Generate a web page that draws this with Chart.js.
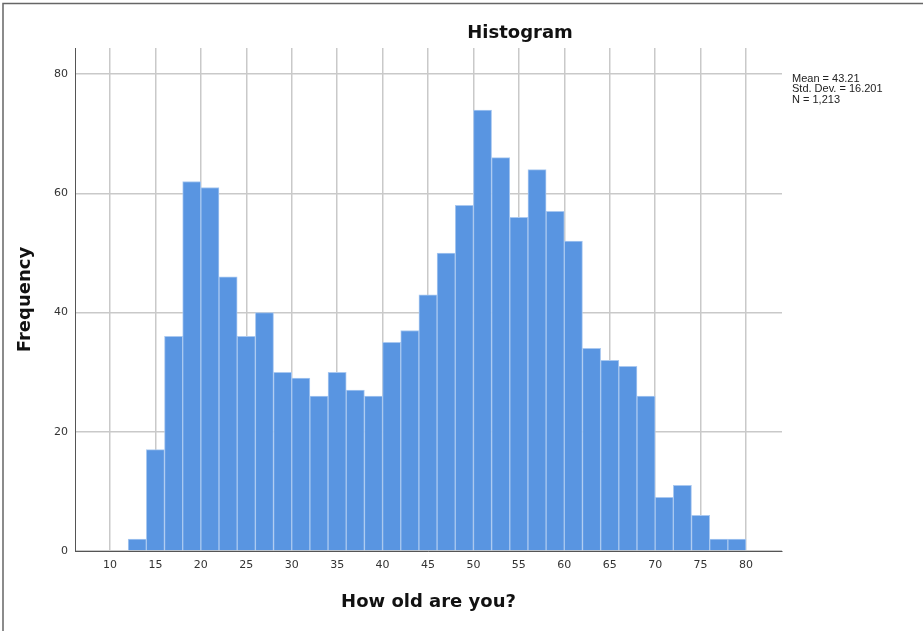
<!DOCTYPE html>
<html>
<head>
<meta charset="utf-8">
<script src="https://cdn.jsdelivr.net/npm/chart.js@4/dist/chart.umd.min.js"></script>
<style>
  html,body{margin:0;padding:0;background:#fff;}
  #wrap{width:923px;height:631px;position:relative;}
</style>
</head>
<body>
<div id="wrap"><canvas id="chartHist" width="923" height="631"></canvas></div>
<script>
// edad (centro de cada intervalo de 2 años) y frecuencias
const binCenters = [13,15,17,19,21,23,25,27,29,31,33,35,37,39,41,43,45,47,49,51,53,55,57,59,61,63,65,67,69,71,73,75,77,79];
const freqs = [2,17,36,62,61,46,36,40,30,29,26,30,27,26,35,37,43,50,58,74,66,56,64,57,52,34,32,31,26,9,11,6,2,2];
const xTicks = [10,15,20,25,30,35,40,45,50,55,60,65,70,75,80];
const yTicks = [0,20,40,60,80];
const statsLines = ['Mean = 43.21','Std. Dev. = 16.201','N = 1,213'];

const extras = {
  id:'extras',
  beforeDraw(chart){
    const ctx = chart.ctx;
    ctx.save();
    ctx.fillStyle = '#fff';
    ctx.fillRect(0,0,chart.width,chart.height);
    ctx.strokeStyle = '#666';
    ctx.lineWidth = 1.5;
    ctx.beginPath();
    ctx.moveTo(3,chart.height); ctx.lineTo(3,3.5); ctx.lineTo(chart.width,3.5);
    ctx.stroke();
    ctx.restore();
  },
  afterDraw(chart){
    const ctx = chart.ctx;
    ctx.save();
    ctx.fillStyle = '#111';
    ctx.font = 'bold 18px "DejaVu Sans"';
    ctx.textAlign = 'center';
    ctx.textBaseline = 'middle';
    ctx.fillText('Histogram', 520, 33);
    ctx.font = '11px "Liberation Sans"';
    ctx.textAlign = 'left';
    ctx.fillStyle = '#222';
    statsLines.forEach((t,i) => ctx.fillText(t, 792, 78.5 + i*10.5));
    ctx.restore();
  }
};

new Chart(document.getElementById('chartHist').getContext('2d'), {
  type:'bar',
  data:{
    datasets:[{
      data: binCenters.map((x,i) => ({x:x, y:freqs[i]})),
      backgroundColor:'#5995e1',
      borderColor:'#a9c8f0',
      borderWidth:1,
      barPercentage:1,
      categoryPercentage:1
    }]
  },
  options:{
    responsive:false,
    animation:false,
    layout:{ padding:{ top:48, right:141, left:0, bottom:0 } },
    plugins:{ legend:{display:false}, tooltip:{enabled:false} },
    scales:{
      x:{
        type:'linear', min:6.15, max:83.96, offset:false,
        afterBuildTicks: s => { s.ticks = xTicks.map(v => ({value:v})); },
        afterFit: s => { s.height = 80; },
        grid:{ color:'#c9c9c9', lineWidth:1.5, drawTicks:false, offset:false },
        border:{ color:'#555', width:1 },
        ticks:{ color:'#333', font:{family:'DejaVu Sans', size:11}, padding:8, maxRotation:0, autoSkip:false },
        title:{ display:true, text:'How old are you?', color:'#111',
          font:{family:'DejaVu Sans', size:18, weight:'bold'}, padding:{top:0, bottom:18} }
      },
      y:{
        min:0, max:84.4,
        afterBuildTicks: s => { s.ticks = yTicks.map(v => ({value:v})); },
        afterFit: s => { s.width = 75; },
        grid:{ color:'#c9c9c9', lineWidth:1.5, drawTicks:false },
        border:{ color:'#555', width:1 },
        ticks:{ color:'#333', font:{family:'DejaVu Sans', size:11}, padding:7 },
        title:{ display:true, text:'Frequency', color:'#111',
          font:{family:'DejaVu Sans', size:18, weight:'bold'}, padding:{top:15, bottom:0} }
      }
    }
  },
  plugins:[extras]
});
</script>
</body>
</html>
